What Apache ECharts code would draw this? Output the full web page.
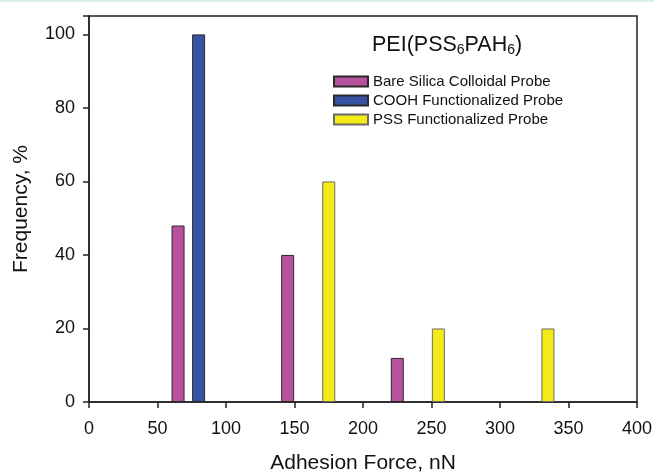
<!DOCTYPE html>
<html>
<head>
<meta charset="utf-8">
<script src="https://cdn.jsdelivr.net/npm/echarts@6/dist/echarts.min.js"></script>
<style>
html,body{margin:0;padding:0;background:#fff;}
#chart{width:654px;height:473px;}
</style>
</head>
<body>
<div id="chart"></div>
<script>
// Data
const seriesNames = ['Bare Silica Colloidal Probe', 'COOH Functionalized Probe', 'PSS Functionalized Probe'];
const bareForce = [65, 145, 225];
const bareFreq = [48, 40, 12];
const coohForce = [80];
const coohFreq = [100];
const pssForce = [175, 255, 335];
const pssFreq = [60, 20, 20];
const xTicks = [0, 50, 100, 150, 200, 250, 300, 350, 400];
const yTicks = [0, 20, 40, 60, 80, 100];

const FONT = "'Liberation Sans', Arial, sans-serif";
const pair = (xs, ys) => xs.map((x, i) => [x, ys[i]]);

const chart = echarts.init(document.getElementById('chart'), null, {renderer: 'canvas'});
const barBase = {type: 'bar', barWidth: 13, barGap: '-100%'};
chart.setOption({
  animation: false,
  backgroundColor: '#ffffff',
  textStyle: {fontFamily: FONT},
  graphic: [{
    type: 'rect', left: 0, top: 0, shape: {x: 0, y: 0, width: 654, height: 2},
    style: {fill: '#d9eee4'}
  }],
  title: {
    text: 'PEI(PSS{s|6}PAH{s|6})',
    left: 367, top: 28,
    textStyle: {
      fontFamily: FONT, fontSize: 21.5, fontWeight: 'normal', color: '#111',
      rich: {s: {fontFamily: FONT, fontSize: 14, color: '#111', padding: [10, 0, 0, 0]}}
    }
  },
  legend: {
    orient: 'vertical', left: 328, top: 69, itemWidth: 34, itemHeight: 10, itemGap: 4, icon: 'rect',
    textStyle: {fontFamily: FONT, fontSize: 15, color: '#111', padding: [0, 0, 0, 0]},
    data: seriesNames
  },
  grid: {left: 89, right: 17, top: 16, bottom: 71, containLabel: false, outerBoundsMode: 'none',
    show: true, borderColor: '#222', borderWidth: 1.5, backgroundColor: 'transparent'},
  xAxis: {
    type: 'value', min: xTicks[0], max: xTicks[xTicks.length - 1], interval: 50,
    name: 'Adhesion Force, nN', nameLocation: 'middle', nameGap: 51,
    nameTextStyle: {fontFamily: FONT, fontSize: 21, color: '#111'},
    axisLine: {show: true, lineStyle: {color: '#222', width: 1.5}},
    axisTick: {show: true, length: 6, inside: false, lineStyle: {color: '#222', width: 1.5}},
    axisLabel: {fontFamily: FONT, fontSize: 18, color: '#111', margin: 18},
    splitLine: {show: false}
  },
  yAxis: {
    type: 'value', min: 0, max: 105, interval: 20,
    name: 'Frequency, %', nameLocation: 'middle', nameGap: 57,
    nameTextStyle: {fontFamily: FONT, fontSize: 21, color: '#111'},
    axisLine: {show: true, lineStyle: {color: '#222', width: 1.5}},
    axisTick: {show: true, length: 6, inside: false, lineStyle: {color: '#222', width: 1.5}},
    axisLabel: {fontFamily: FONT, fontSize: 18, color: '#111', margin: 14,
      formatter: v => (yTicks.indexOf(v) >= 0 ? String(v) : '')},
    splitLine: {show: false}
  },
  series: [
    Object.assign({}, barBase, {name: seriesNames[0], data: pair(bareForce, bareFreq),
      itemStyle: {color: '#b9529e', borderColor: '#2a2a2a', borderWidth: 1}}),
    Object.assign({}, barBase, {name: seriesNames[1], data: pair(coohForce, coohFreq),
      itemStyle: {color: '#3953a4', borderColor: '#2a2a2a', borderWidth: 1}}),
    Object.assign({}, barBase, {name: seriesNames[2], data: pair(pssForce, pssFreq),
      itemStyle: {color: '#f3ea16', borderColor: '#6b6b6b', borderWidth: 1}})
  ]
});
</script>
</body>
</html>
